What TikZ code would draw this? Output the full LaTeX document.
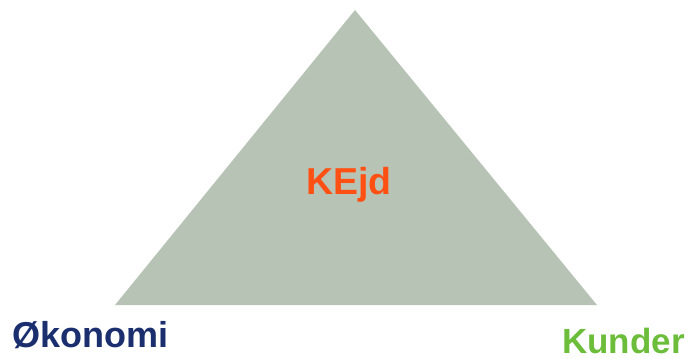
\documentclass[tikz,border=0pt]{standalone}
\usepackage{fontspec}
\setmainfont{Liberation Sans}
\usepackage{tikz}
\usetikzlibrary{positioning}

\definecolor{trigrey}{HTML}{B7C4B5}
\definecolor{kejdorange}{HTML}{FF5014}
\definecolor{okoblue}{HTML}{1B2F6E}
\definecolor{kundgreen}{HTML}{6CBD3A}

\begin{document}
\begin{tikzpicture}[x=1pt, y=-1pt,
    corner/.style={anchor=base west, inner sep=0pt, font=\fontsize{36}{40}\selectfont\bfseries, text=#1}
]
    \useasboundingbox (0,0) rectangle (694,359);

    % Triangle
    \coordinate (top) at (355,10);
    \coordinate (left) at (115,305);
    \coordinate (right) at (597,305);
    \fill[trigrey] (top) -- (left) -- (right) -- cycle;

    % Labels
    \node[corner=kejdorange, font=\fontsize{37.5}{40}\selectfont\bfseries] (kejd) at (306,194) {KEjd};
    \node[corner=okoblue] (okonomi) at (12,347) {Økonomi};
    \node[corner=kundgreen, font=\fontsize{35}{40}\selectfont\bfseries] (kunder) at (562,353) {Kunder};
\end{tikzpicture}
\end{document}
